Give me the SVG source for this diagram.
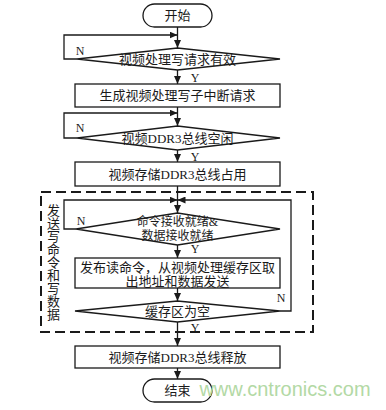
<svg xmlns="http://www.w3.org/2000/svg" width="386" height="410" viewBox="0 0 386 410">
<style>
.s{fill:#fff;stroke:#1a1a1a;stroke-width:1.3}
.t{font-family:"Liberation Serif","Noto Sans CJK SC",serif;font-size:13px;fill:#1a1a1a;text-anchor:middle}
.t12{font-size:12px}
.c{fill:none;stroke:#1a1a1a;stroke-width:1.3;marker-end:url(#ah)}
.lb{font-family:"Liberation Serif",serif;font-size:12px;fill:#1a1a1a;text-anchor:middle}
</style>
<defs>
<marker id="ah" markerWidth="8" markerHeight="7" refX="8" refY="3.5" orient="auto" markerUnits="userSpaceOnUse">
<path d="M0,0 L8,3.5 L0,7 z" fill="#1a1a1a"/>
</marker>
</defs>
<rect width="386" height="410" fill="#fff"/>
<g id="frame">
<rect x="41" y="192" width="272" height="140" fill="none" stroke="#1a1a1a" stroke-width="2" stroke-dasharray="10 5"/>
<text x="52.5" y="204" font-family="Liberation Serif,Noto Sans CJK SC,serif" font-size="13" fill="#1a1a1a" writing-mode="vertical-rl" style="writing-mode:vertical-rl">发送写命令和写数据</text>
</g>
<g id="connectors">
<path class="c" d="M177.5,27 V48"/>
<path class="c" d="M77,59 H64 V35 H177.5"/>
<path class="c" d="M177.5,70 V84"/>
<path class="c" d="M177.5,107 V126"/>
<path class="c" d="M77,138 H64 V113 H177.5"/>
<path class="c" d="M177.5,150 V162"/>
<path class="c" d="M177.5,186 V213"/>
<path class="c" d="M76,229 H64 V200 H177.5"/>
<path class="c" d="M177.5,245 V258"/>
<path class="c" d="M177.5,288 V301"/>
<path class="c" d="M280,311 H291 V200 H177.5"/>
<path class="c" d="M177.5,322 V346"/>
<path class="c" d="M177.5,368 V379"/>
<text class="lb" x="80" y="55">N</text>
<text class="lb" x="195" y="82">Y</text>
<text class="lb" x="80" y="132">N</text>
<text class="lb" x="195" y="161">Y</text>
<text class="lb" x="81" y="225">N</text>
<text class="lb" x="195" y="253">Y</text>
<text class="lb" x="281" y="302">N</text>
<text class="lb" x="195" y="332">Y</text>
</g>
<g id="start">
<rect class="s" x="143" y="4" width="69" height="23" rx="11.5"/>
<text class="t" x="177.5" y="20">开始</text>
</g>
<g id="d1">
<polygon class="s" points="77,59 177.5,48 280,59 177.5,70"/>
<text class="t" x="177.5" y="63.5">视频处理写请求有效</text>
</g>
<g id="r2">
<rect class="s" x="75" y="84" width="205" height="23"/>
<text class="t" x="177.5" y="100">生成视频处理写子中断请求</text>
</g>
<g id="d2">
<polygon class="s" points="77,138 177.5,126 280,138 177.5,150"/>
<text class="t" x="177.5" y="142.5">视频DDR3总线空闲</text>
</g>
<g id="r3">
<rect class="s" x="75" y="162" width="205" height="24"/>
<text class="t" x="177.5" y="178.5">视频存储DDR3总线占用</text>
</g>
<g id="d3">
<polygon class="s" points="76,229 177.5,213 280,229 177.5,245"/>
<text class="t t12" x="177.5" y="226">命令接收就绪&amp;</text>
<text class="t t12" x="177.5" y="239.5">数据接收就绪</text>
</g>
<g id="r4">
<rect class="s" x="75" y="258" width="205" height="30"/>
<text class="t" x="177.5" y="271.5">发布读命令，从视频处理缓存区取</text>
<text class="t" x="177.5" y="286">出地址和数据发送</text>
</g>
<g id="d4">
<polygon class="s" points="75,311 177.5,301 280,311 177.5,322"/>
<text class="t" x="177.5" y="315.5">缓存区为空</text>
</g>
<g id="r5">
<rect class="s" x="75" y="346" width="205" height="22"/>
<text class="t" x="177.5" y="361.5">视频存储DDR3总线释放</text>
</g>
<g id="end">
<rect class="s" x="143" y="379" width="69" height="23" rx="11.5"/>
<text class="t" x="177.5" y="395">结束</text>
</g>
<text x="285" y="396" font-family="Liberation Sans,Arial,sans-serif" font-size="20" fill="#b3d9a5" text-anchor="middle">www.cntronics.com</text>
</svg>
